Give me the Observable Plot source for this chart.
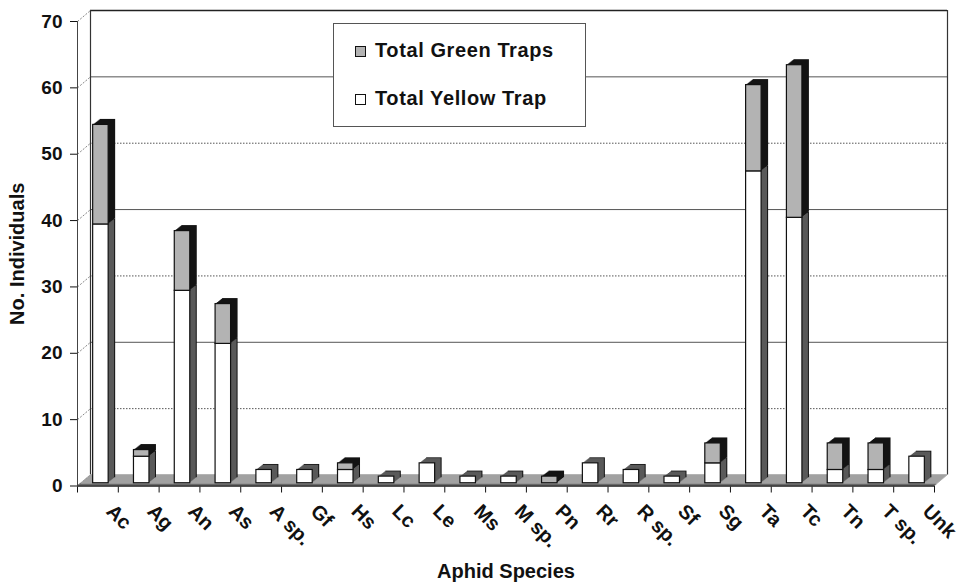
<!DOCTYPE html>
<html>
<head>
<meta charset="utf-8">
<script src="https://cdn.jsdelivr.net/npm/d3@7"></script>
<script src="https://cdn.jsdelivr.net/npm/@observablehq/plot@0.6"></script>
<style>
  html, body { margin: 0; padding: 0; background: #fff; }
  #wrap { position: relative; width: 960px; height: 584px; overflow: hidden; }
  #legend { position: absolute; left: 333px; top: 23px; width: 253px; height: 104px;
    border: 1px solid #555; background: #fff; box-sizing: border-box;
    font-family: "Liberation Sans", Arial, sans-serif; font-weight: bold; font-size: 20px;
    letter-spacing: 0.6px; color: #111; }
  .sw { position: absolute; width: 11px; height: 11px; border: 1px solid #111; box-sizing: border-box; }
  .lt { position: absolute; line-height: 1; white-space: nowrap; }
</style>
</head>
<body>
<div id="wrap">
  <div id="chart"></div>
  <div id="legend">
    <div class="sw" style="left:21px;top:22px;background:#b3b3b3"></div>
    <div class="lt" style="left:41px;top:16px">Total Green Traps</div>
    <div class="sw" style="left:21px;top:70px;background:#fff"></div>
    <div class="lt" style="left:41px;top:64px">Total Yellow Trap</div>
  </div>
</div>
<script>
const categories = ["Ac","Ag","An","As","A sp.","Gf","Hs","Lc","Le","Ms","M sp.","Pn","Rr","R sp.","Sf","Sg","Ta","Tc","Tn","T sp.","Unk"];
const yellowTrap = [39,4,29,21,2,2,2,1,3,1,1,0,3,2,1,3,47,40,2,2,4];
const greenTraps = [15,1,9,6,0,0,1,0,0,0,0,1,0,0,0,3,13,23,4,4,0];
const yTicks = [0,10,20,30,40,50,60,70];

const rows = categories.map((c, i) => ({i, c, yellow: yellowTrap[i], green: greenTraps[i]}));
const yellowRows = rows.filter(d => d.yellow > 0);
const greenRows = rows.filter(d => d.green > 0);
const capRows = rows.filter(d => d.yellow > 0 && d.green === 0);

// layout / style constants
const W = 960, H = 584, mL = 77, mR = 26, mT = 21, mB = 98.5;
const pxX = (W - mL - mR) / categories.length;
const pxY = (H - mT - mB) / 70;
const wallDX = 13, wallDY = 11;       // depth of the 3-D box (px)
const barDX = 7, barDY = 5.5;         // depth of each column (px)
const lift = (wallDY - barDY) / 2;    // columns sit mid-depth
const shift = (wallDX - barDX) / 2;
const faceW = 15.5;
const barX = {
  x1: d => d.i, x2: d => d.i + 1,
  insetLeft: pxX / 2 - faceW / 2 + shift,
  insetRight: pxX / 2 - faceW / 2 - shift
};
const steps = [7, 6, 5, 4, 3, 2, 1];
const floorSteps = d3.range(0, 12);

const marks = [];
// back wall grid
for (const v of yTicks) {
  if (v === 0) continue;
  const dotted = (v === 10 || v === 30 || v === 50);
  marks.push(Plot.ruleY([v], {dx: wallDX, dy: -wallDY,
    stroke: v === 70 ? "#222" : "#555", strokeWidth: v === 70 ? 1.3 : 1,
    strokeDasharray: dotted ? "1.5,1.5" : null}));
}
marks.push(Plot.ruleX([0, categories.length], {y1: 0, y2: 70, dx: wallDX, dy: -wallDY, stroke: "#333", strokeWidth: 1.2}));
// left wall connectors
marks.push(Plot.link(yTicks, {x1: 0, y1: d => d, x2: wallDX / pxX, y2: d => d + wallDY / pxY,
  stroke: "#666", strokeWidth: 0.8, strokeDasharray: "2,1.5"}));
// front axis line
marks.push(Plot.ruleX([0], {y1: 0, y2: 70, stroke: "#444", strokeWidth: 1}));
// floor
for (const k of floorSteps) {
  marks.push(Plot.ruleY([0], {dx: k * wallDX / 11, dy: -k,
    stroke: k < 3 ? "#5e5e5e" : "#9b9b9b", strokeWidth: 1.4}));
}
marks.push(Plot.ruleY([0], {stroke: "#222", strokeWidth: 1.2}));
// column extrusions
for (const k of steps) {
  marks.push(Plot.rectY(yellowRows, {...barX, y1: 0, y2: "yellow",
    dx: k, dy: -lift - k * barDY / barDX, fill: k === 7 ? "#111" : "#5a5a5a"}));
}
for (const k of steps) {
  marks.push(Plot.rectY(greenRows, {...barX, y1: "yellow", y2: d => d.yellow + d.green,
    dx: k, dy: -lift - k * barDY / barDX, fill: "#141414"}));
}
for (const k of steps) {
  marks.push(Plot.rectY(capRows, {...barX, y1: "yellow", y2: "yellow",
    dx: k, dy: -lift - k * barDY / barDX, stroke: "#1a1a1a", strokeWidth: 1.6, fill: "none"}));
}
// front faces
marks.push(Plot.rectY(yellowRows, {...barX, y1: 0, y2: "yellow", dy: -lift,
  fill: "#fff", stroke: "#111", strokeWidth: 1.2}));
marks.push(Plot.rectY(greenRows, {...barX, y1: "yellow", y2: d => d.yellow + d.green, dy: -lift,
  fill: "#b3b3b3", stroke: "#111", strokeWidth: 1.2}));
// category labels
marks.push(Plot.text(rows, {x: d => d.i + 0.5, y: 0, text: "c", rotate: 45, textAnchor: "start",
  lineAnchor: "middle", dx: 12, dy: 22, fontSize: 20, fontWeight: "bold", fill: "#111"}));
// axis titles
marks.push(Plot.text(["No. Individuals"], {text: d => d, frameAnchor: "left", rotate: -90, dx: -60,
  textAnchor: "middle", lineAnchor: "middle", fontSize: 20, fontWeight: "bold", fill: "#111"}));
marks.push(Plot.text(["Aphid Species"], {text: d => d, frameAnchor: "bottom", dy: 86,
  textAnchor: "middle", lineAnchor: "middle", fontSize: 20, fontWeight: "bold", fill: "#111"}));

const chart = Plot.plot({
  width: W, height: H,
  marginLeft: mL, marginRight: mR, marginTop: mT, marginBottom: mB,
  x: {type: "linear", domain: [0, categories.length], ticks: d3.range(categories.length + 1),
      tickFormat: () => "", tickSize: 7, label: null},
  y: {domain: [0, 70], ticks: yTicks, tickSize: 7, tickPadding: 8, label: null},
  style: "font-family: 'Liberation Sans', Arial, sans-serif; font-size: 19px; font-weight: bold; background: #fff; color: #111; overflow: visible;",
  marks
});
document.getElementById("chart").appendChild(chart);
</script>
</body>
</html>
